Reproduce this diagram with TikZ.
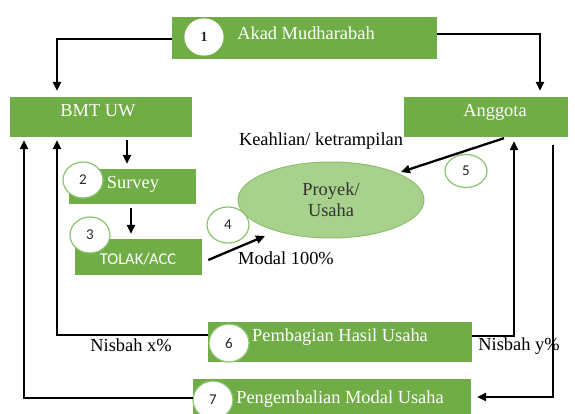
\documentclass[tikz,border=0pt]{standalone}
\usepackage{fontspec}
\setmainfont{Liberation Serif}
\newfontfamily\calib{Carlito}
\usetikzlibrary{arrows.meta,shapes.geometric}
\definecolor{ogreen}{HTML}{70AD47}
\definecolor{lgreen}{HTML}{A9D18E}
\definecolor{egreen}{HTML}{8CBF6A}
\definecolor{cgreen}{HTML}{8DC26F}
\tikzset{
  gbox/.style={rectangle, fill=ogreen, draw=none, inner sep=0pt},
  btext/.style={text=white, font=\fontsize{18.4}{20}\selectfont, inner sep=0pt},
  ltext/.style={text=black, font=\fontsize{18.4}{20}\selectfont, inner sep=0pt},
  num/.style={ellipse, fill=white, draw=cgreen, line width=1.2pt, inner sep=0pt,
    minimum width=40pt, minimum height=36pt, font=\calib\fontsize{15}{17}\selectfont, text=black!85},
  arr/.style={line width=2.3pt, -{Triangle[length=9pt,width=8pt]}},
}
\begin{document}
\begin{tikzpicture}[x=1pt,y=-1pt]
\useasboundingbox (0,0) rectangle (575,414);
% boxes
\node[gbox, minimum width=265pt, minimum height=42pt] (akad) at (304.5,38) {};
\node[gbox, minimum width=182pt, minimum height=40pt] (bmt) at (101,117) {};
\node[gbox, minimum width=164pt, minimum height=40pt] (ang) at (486,117) {};
\node[gbox, minimum width=127pt, minimum height=35pt] (survey) at (132.5,186.5) {};
\node[gbox, minimum width=127pt, minimum height=36pt] (tolak) at (138.5,257) {};
\node[gbox, minimum width=264pt, minimum height=40pt] (bagi) at (340,342) {};
\node[gbox, minimum width=278pt, minimum height=46pt] (kembali) at (332,402) {};
\node[ellipse, fill=lgreen, draw=egreen, line width=1pt, minimum width=186pt, minimum height=76pt, inner sep=0pt] (proyek) at (331,200) {};
% texts
\node[btext] at (306,33) {Akad Mudharabah};
\node[btext] at (98,111) {BMT UW};
\node[btext] at (495,112) {Anggota};
\node[btext] at (133,184) {Survey};
\node[btext, font=\calib\fontsize{16.5}{18}\selectfont] at (138,259) {TOLAK/ACC};
\node[btext] at (340,337) {Pembagian Hasil Usaha};
\node[btext] at (340,399) {Pengembalian Modal Usaha};
\node[ltext, text=black!80, align=center, font=\fontsize{18.4}{21}\selectfont] at (331,200) {Proyek/\\Usaha};
\node[ltext] (keah) at (321,141) {Keahlian/ ketrampilan};
\node[ltext] (modal) at (286,258) {Modal 100\%};
\node[ltext] (nx) at (131,345) {Nisbah x\%};
\node[ltext] (ny) at (519,346) {Nisbah y\%};
% number circles
\node[num, draw=white, font=\bfseries\fontsize{14}{16}\selectfont, minimum width=38pt] (c1) at (204,37) {1};
\node[num] (c2) at (83,180) {2};
\node[num, minimum width=40pt] (c3) at (90,235) {3};
\node[num, minimum width=42pt] (c4) at (228,225) {4};
\node[num, minimum width=42pt, minimum height=33pt] (c5) at (466,171) {5};
\node[num, minimum height=38pt] (c6) at (229,343) {6};
\node[num, minimum height=38pt] (c7) at (213,400) {7};
% connectors
\draw[arr] ([yshift=-1pt]akad.west) -| ([xshift=-44pt,yshift=6pt]bmt.north);
\draw[arr] ([yshift=4pt]akad.east) -| ([xshift=54pt,yshift=6pt]ang.north);
\draw[arr] ([xshift=26pt,yshift=-3pt]bmt.south) -- ([xshift=-5.5pt,yshift=5pt]survey.north);
\draw[arr] ([xshift=-1.5pt,yshift=-4pt]survey.south) -- ([xshift=-7.5pt,yshift=5pt]tolak.north);
\draw[arr] ([xshift=6pt,yshift=-3pt]tolak.east) -- ([xshift=-66pt,yshift=-36pt]proyek.center);
\draw[arr] ([xshift=18pt,yshift=-1pt]ang.south) -- ([xshift=70pt,yshift=28pt]proyek.center);
\draw[arr] ([yshift=7pt]bagi.west) -| ([xshift=-44pt,yshift=-3pt]bmt.south);
\draw[arr] ([yshift=6pt]bagi.east) -| ([xshift=28pt,yshift=-4pt]ang.south);
\draw[arr] ([yshift=4pt]kembali.west) -| ([xshift=-77pt,yshift=-3pt]bmt.south);
\draw[arr] ([xshift=67pt,yshift=-8pt]ang.south) |- ([xshift=6pt,yshift=5pt]kembali.east);
\end{tikzpicture}
\end{document}
